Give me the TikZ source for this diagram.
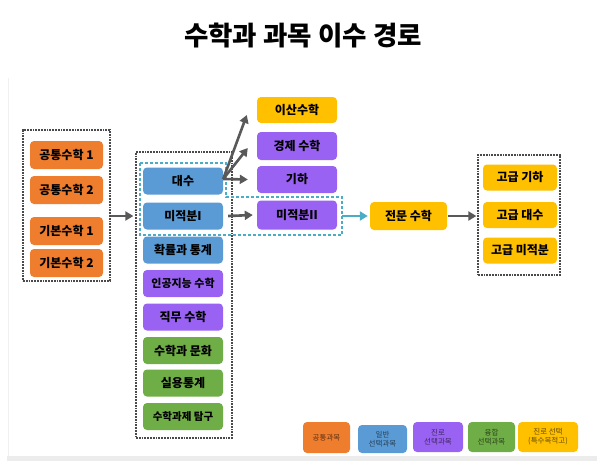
\documentclass[tikz,border=0pt]{standalone}
\usepackage{fontspec}
\setmainfont{Noto Sans CJK KR}
\newfontfamily\kr{Noto Sans CJK KR}
\usetikzlibrary{arrows.meta,calc,fit}
\definecolor{corange}{HTML}{EF7D2E}
\definecolor{cblue}{HTML}{5B9BD5}
\definecolor{cpurple}{HTML}{9A62F2}
\definecolor{cgreen}{HTML}{6FAD46}
\definecolor{cyellow}{HTML}{FFC000}
\definecolor{ccyan}{HTML}{4BACC6}
\definecolor{carrow}{HTML}{595959}
\definecolor{cframe}{HTML}{4A4A4A}
\tikzset{
  subj/.style={rounded corners=4pt, minimum width=80pt, minimum height=27pt, inner sep=1pt,
    font=\kr\bfseries\fontsize{12}{14}\selectfont, text=black},
  grp/.style={draw=cframe, dash pattern=on 1.8pt off 1pt, line width=1.3pt, inner sep=0pt},
  arr/.style={draw=carrow, line width=2.6pt, -{Triangle[length=8pt,width=9pt]}},
  legend/.style={rounded corners=4pt, inner sep=1pt, align=center,
    font=\kr\fontsize{7.5}{9}\selectfont, text opacity=0.6, text=black}
}
\begin{document}
\begin{tikzpicture}[x=1pt,y=-1pt]
\useasboundingbox (0,0) rectangle (597,461);
\fill[white] (0,0) rectangle (597,461);
% faint frame
\draw[gray!12, line width=1pt] (8,78) -- (8,457);
\fill[gray!15] (7,456) rectangle (597,461);

% title
\node[font=\kr\bfseries\fontsize{26.5}{30}\selectfont] (title) at (303,36) {수학과 과목 이수 경로};

% left group
\node[subj, fill=corange, minimum width=73pt, minimum height=28pt] (g1) at (66.5,155) {공통수학 1};
\node[subj, fill=corange, minimum width=73pt, minimum height=28pt] (g2) at (66.5,190) {공통수학 2};
\node[subj, fill=corange, minimum width=73pt, minimum height=28pt] (b1) at (66.5,231) {기본수학 1};
\node[subj, fill=corange, minimum width=73pt, minimum height=28pt] (b2) at (66.5,263) {기본수학 2};
\node[grp, fit={(23,130) (110,281)}] (grpL) {};

% middle group
\node[subj, fill=cblue] (daesu) at (183,181) {대수};
\node[subj, fill=cblue] (calc1) at (183,216) {미적분I};
\node[subj, fill=cblue] (prob) at (183,250) {확률과 통계};
\node[subj, fill=cpurple, font=\kr\bfseries\fontsize{11}{13}\selectfont] (ai) at (183,283.5) {인공지능 수학};
\node[subj, fill=cpurple] (job) at (183,317) {직무 수학};
\node[subj, fill=cgreen] (cult) at (183,350.5) {수학과 문화};
\node[subj, fill=cgreen] (stat) at (183,383) {실용통계};
\node[subj, fill=cgreen, font=\kr\bfseries\fontsize{10.5}{12}\selectfont] (task) at (183,416.5) {수학과제 탐구};
\node[grp, fit={(136,152) (232,438)}] (grpM) {};

% right column
\node[subj, fill=cyellow, minimum height=26pt] (isan) at (297,110) {이산수학};
\node[subj, fill=cpurple, minimum height=28pt] (econ) at (297,146) {경제 수학};
\node[subj, fill=cpurple] (geom) at (297,179.5) {기하};
\node[subj, fill=cpurple, minimum height=29pt] (calc2) at (297,215) {미적분II};

% cyan dashed outline
\draw[ccyan, line width=1.4pt, dash pattern=on 3pt off 2pt]
  (140,163) -- (226,163) -- (226,197) -- (342,197) -- (342,235) -- (140,235) -- cycle;
\coordinate (cyR) at (342,216);

% specialist
\node[subj, fill=cyellow, minimum width=77pt, minimum height=28pt] (jeon) at (408.5,216) {전문 수학};
\node[subj, fill=cyellow, minimum width=74pt, minimum height=26pt] (ag) at (520,177.5) {고급 기하};
\node[subj, fill=cyellow, minimum width=74pt, minimum height=26pt] (aa) at (520,215) {고급 대수};
\node[subj, fill=cyellow, minimum width=74pt, minimum height=26pt] (ac) at (520,250.5) {고급 미적분};
\node[grp, fit={(478,155) (560,275)}] (grpR) {};

% arrows
\draw[arr] (grpL.east |- calc1.west) -- ($(grpM.west |- calc1.west)+(-2,0)$);
\draw[arr] ($(daesu.east)+(0,-2)$) -- ($(isan.west)+(-10,5)$);
\draw[arr] ($(daesu.east)+(0,-2)$) -- ($(econ.west)+(-9,2)$);
\draw[arr] ($(daesu.east)+(0,-2)$) -- ($(geom.west)+(-9,0)$);
\draw[arr] ($(calc1.east)+(5,0)$) -- ($(calc2.west)+(-4,0)$);
\draw[draw=ccyan, line width=2.6pt, -{Triangle[length=8pt,width=9pt]}] (cyR) -- ($(jeon.west)+(-2,0)$);
\draw[arr] ($(jeon.east)+(1,0)$) -- ($(grpR.west |- jeon.east)+(-1,0)$);

% legend
\node[legend, fill=corange, minimum width=47pt, minimum height=31pt] (l1) at (326.5,437.5) {공통과목};
\node[legend, fill=cblue, minimum width=49pt, minimum height=28pt] (l2) at (382.5,439) {일반\\선택과목};
\node[legend, fill=cpurple, minimum width=50pt, minimum height=30pt] (l3) at (438,437) {진로\\선택과목};
\node[legend, fill=cgreen, minimum width=47pt, minimum height=30pt] (l4) at (491.5,437) {융합\\선택과목};
\node[legend, fill=cyellow, minimum width=60pt, minimum height=30pt] (l5) at (548,437) {진로 선택\\(특수목적고)};
\end{tikzpicture}
\end{document}
